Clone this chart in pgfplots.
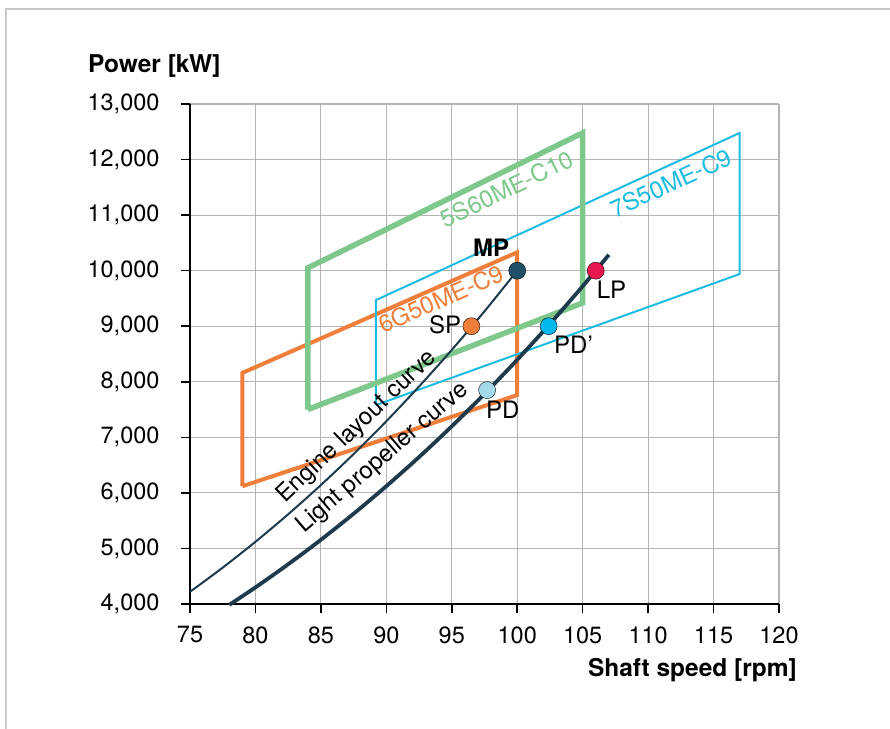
\documentclass[border=0pt]{standalone}
\usepackage{fontspec}
\setmainfont{TeX Gyre Heros}
\usepackage{pgfplots}
\pgfplotsset{compat=1.18}
\definecolor{frame}{HTML}{C8C8C8}
\definecolor{cgreen}{HTML}{7DC88A}
\definecolor{corange}{HTML}{F07E3B}
\definecolor{ccyan}{HTML}{1CBCE0}
\definecolor{cnavy}{HTML}{1E3A4C}
\definecolor{cmp}{HTML}{1F5068}
\definecolor{clp}{HTML}{E8174F}
\definecolor{cpdp}{HTML}{00B8EE}
\definecolor{cpd}{HTML}{A3D9E8}
\definecolor{csp}{HTML}{F07E3B}
\definecolor{cgrid}{HTML}{B4B4B4}
\newcommand{\tfont}{\fontsize{23.5bp}{27bp}\selectfont}
\newcommand{\lfont}{\fontsize{24.5bp}{28bp}\selectfont}
\newcommand{\afont}{\fontsize{24bp}{28bp}\selectfont}
\begin{document}
\begin{tikzpicture}
\useasboundingbox (0,0) rectangle (890bp,729bp);
\draw[color=frame, line width=2bp] (6bp,0) -- (6bp,719.5bp) -- (890bp,719.5bp);
\begin{axis}[
  at={(190bp,125bp)}, anchor=south west,
  scale only axis, width=589bp, height=500bp,
  xmin=75, xmax=120, ymin=4000, ymax=13000,
  xtick={75,80,...,120}, ytick={4000,5000,...,13000},
  axis x line*=bottom, axis y line*=left,
  axis line style={-, black, line width=1.8bp},
  grid=major, grid style={cgrid, line width=1.1bp},
  tick align=outside, major tick length=9bp,
  tick style={black, line width=1.5bp},
  tick label style={font=\tfont},
  yticklabel style={xshift=-18bp},
  xticklabel style={yshift=-10bp},
  /pgf/number format/assume math mode=true,
  /pgf/number format/1000 sep={,},
  scaled y ticks=false,
  clip=false,
]
% 6G50ME-C9
\addplot[corange, line width=4bp, line join=miter] coordinates {(79,6120) (79,8160) (100,10330) (100,7760) (79,6120)};
% 7S50ME-C9
\addplot[ccyan, line width=2bp, line join=miter] coordinates {(89.2,7580) (89.2,9470) (117,12480) (117,9940) (89.2,7580)};
% 5S60ME-C10
\addplot[cgreen, line width=5.5bp, line join=miter] coordinates {(84,7500) (84,10050) (105,12480) (105,9420) (84,7500)};
% Engine layout curve
\addplot[cnavy, line width=2bp, smooth] coordinates {
(75,4219) (77.5,4655) (80,5120) (82.5,5615) (85,6141) (87.5,6699) (90,7290) (92.5,7915) (95,8574) (97.5,9269) (100,10000)};
% Light propeller curve
\addplot[cnavy, line width=3.8bp, smooth] coordinates {
(78,3984) (80,4299) (82.5,4715) (85,5156) (87.5,5625) (90,6121) (92.5,6645) (95,7199) (97.5,7782) (100,8396) (102.5,9042) (105,9720) (107,10286)};
% points
\addplot[only marks, mark=*, mark size=8.5bp, mark options={draw=none, fill=cmp}] coordinates {(100,10000)};
\addplot[only marks, mark=*, mark size=8.5bp, mark options={draw=none, fill=csp}] coordinates {(96.5,9000)};
\addplot[only marks, mark=*, mark size=8.5bp, mark options={draw=none, fill=clp}] coordinates {(106,10000)};
\addplot[only marks, mark=*, mark size=8.5bp, mark options={draw=none, fill=cpdp}] coordinates {(102.4,9000)};
\addplot[only marks, mark=*, mark size=8.5bp, mark options={draw=none, fill=cpd}] coordinates {(97.7,7850)};
% labels
\node[font=\afont\bfseries] at (axis cs:98.0,10408) {MP};
\node[font=\afont] at (axis cs:94.5,9022) {SP};
\node[font=\afont] at (axis cs:107.2,9652) {LP};
\node[font=\afont] at (axis cs:104.3,8662) {PD’};
\node[font=\afont] at (axis cs:98.9,7492) {PD};
\node[font=\afont, text=cgreen, rotate=26] at (axis cs:99.2,11470) {5S60ME-C10};
\node[font=\afont, text=ccyan, rotate=24.6] at (axis cs:111.75,11578) {7S50ME-C9};
\node[font=\afont, text=corange, rotate=23.7] at (axis cs:94.17,9490) {6G50ME-C9};
\node[font=\afont, rotate=43.7] at (axis cs:87.76,7186) {Engine layout curve};
\node[font=\afont, rotate=40.6] at (axis cs:89.74,6628) {Light propeller curve};
\end{axis}
\node[font=\lfont\bfseries, anchor=base west, inner sep=0] at (88bp,656bp) {Power [kW]};
\node[font=\lfont\bfseries, anchor=base east, inner sep=0] at (797bp,52bp) {Shaft speed [rpm]};
\end{tikzpicture}
\end{document}
